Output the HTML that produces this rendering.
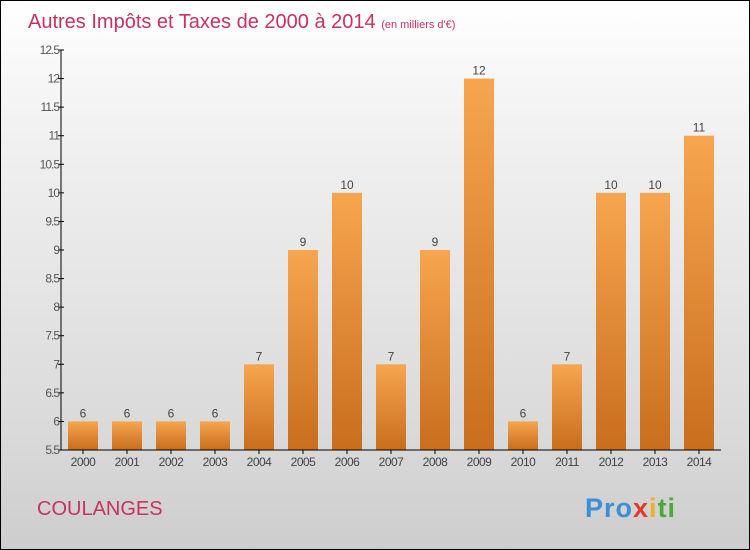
<!DOCTYPE html>
<html><head><meta charset="utf-8"><style>
body{margin:0}
#c{position:relative;width:748px;height:548px;border:1px solid #000;background:linear-gradient(#fff,#f3f3f3 20%,#d9d9d9 80%,#cdcdcd);font-family:"Liberation Sans",sans-serif;overflow:hidden}
</style></head><body>
<div id="c">
<svg id="s" width="748" height="548">
<defs><linearGradient id="g" x1="0" y1="0" x2="0" y2="1"><stop offset="0" stop-color="#f7a54f"/><stop offset="1" stop-color="#c86e1d"/></linearGradient></defs>
<text x="27" y="27" font-size="20" fill="#c8325f">Autres Impôts et Taxes de 2000 à 2014 <tspan font-size="11">(en milliers d'€)</tspan></text>
<text x="36" y="514" font-size="20" fill="#c8325f">COULANGES</text>
<text x="584" y="516" font-size="27" font-weight="bold" letter-spacing="1"><tspan fill="#3a8fd6">Pro</tspan><tspan fill="#e23a2a">x</tspan><tspan fill="#f0b020">i</tspan><tspan fill="#4aaa3a">ti</tspan></text>
<g id="plot"></g>
</svg></div>
<script>
const years=["2000","2001","2002","2003","2004","2005","2006","2007","2008","2009","2010","2011","2012","2013","2014"];
const values=[6,6,6,6,7,9,10,7,9,12,6,7,10,10,11];
const ticks=[5.5,6,6.5,7,7.5,8,8.5,9,9.5,10,10.5,11,11.5,12,12.5];
const ns="http://www.w3.org/2000/svg",p=document.getElementById('plot');
const x0=60,step=44,yMin=5.5,yMax=12.5,yTop=49,yBot=449;
const y=v=>yBot-(v-yMin)/(yMax-yMin)*(yBot-yTop);
function mk(t,a,txt){const e=document.createElementNS(ns,t);for(const k in a)e.setAttribute(k,a[k]);if(txt!==undefined)e.textContent=txt;p.appendChild(e);return e;}
ticks.forEach(t=>{
 const l=mk('line',{x1:x0-3,x2:x0+3,y1:y(t),y2:y(t),stroke:'#000'});
 
 
 const tx=mk('text',{x:x0-2,y:y(t)+4,'font-size':12,fill:'#555','text-anchor':'end','letter-spacing':'-1'},String(t));
 
 
});
years.forEach((yr,i)=>{
 const cx=x0+step*i+step/2,v=values[i];
 const r=mk('rect',{x:cx-15,y:y(v),width:30,height:yBot-y(v),fill:'url(#g)'});
 
 
 const vl=mk('text',{x:cx,y:y(v)-4,'font-size':12,fill:'#444','text-anchor':'middle'},String(v));
 
 
 const tk=mk('line',{x1:cx,x2:cx,y1:yBot,y2:yBot+4,stroke:'#000'});
 
 
 const xl=mk('text',{x:cx,y:yBot+16,'font-size':12,fill:'#444','text-anchor':'middle','letter-spacing':'-0.5'},yr);
 
 
});
const ya=mk('line',{x1:x0,x2:x0,y1:yTop,y2:yBot,stroke:'#000'});


const xa=mk('line',{x1:x0,x2:x0+step*years.length,y1:yBot,y2:yBot,stroke:'#000'});


</script>
</body></html>
